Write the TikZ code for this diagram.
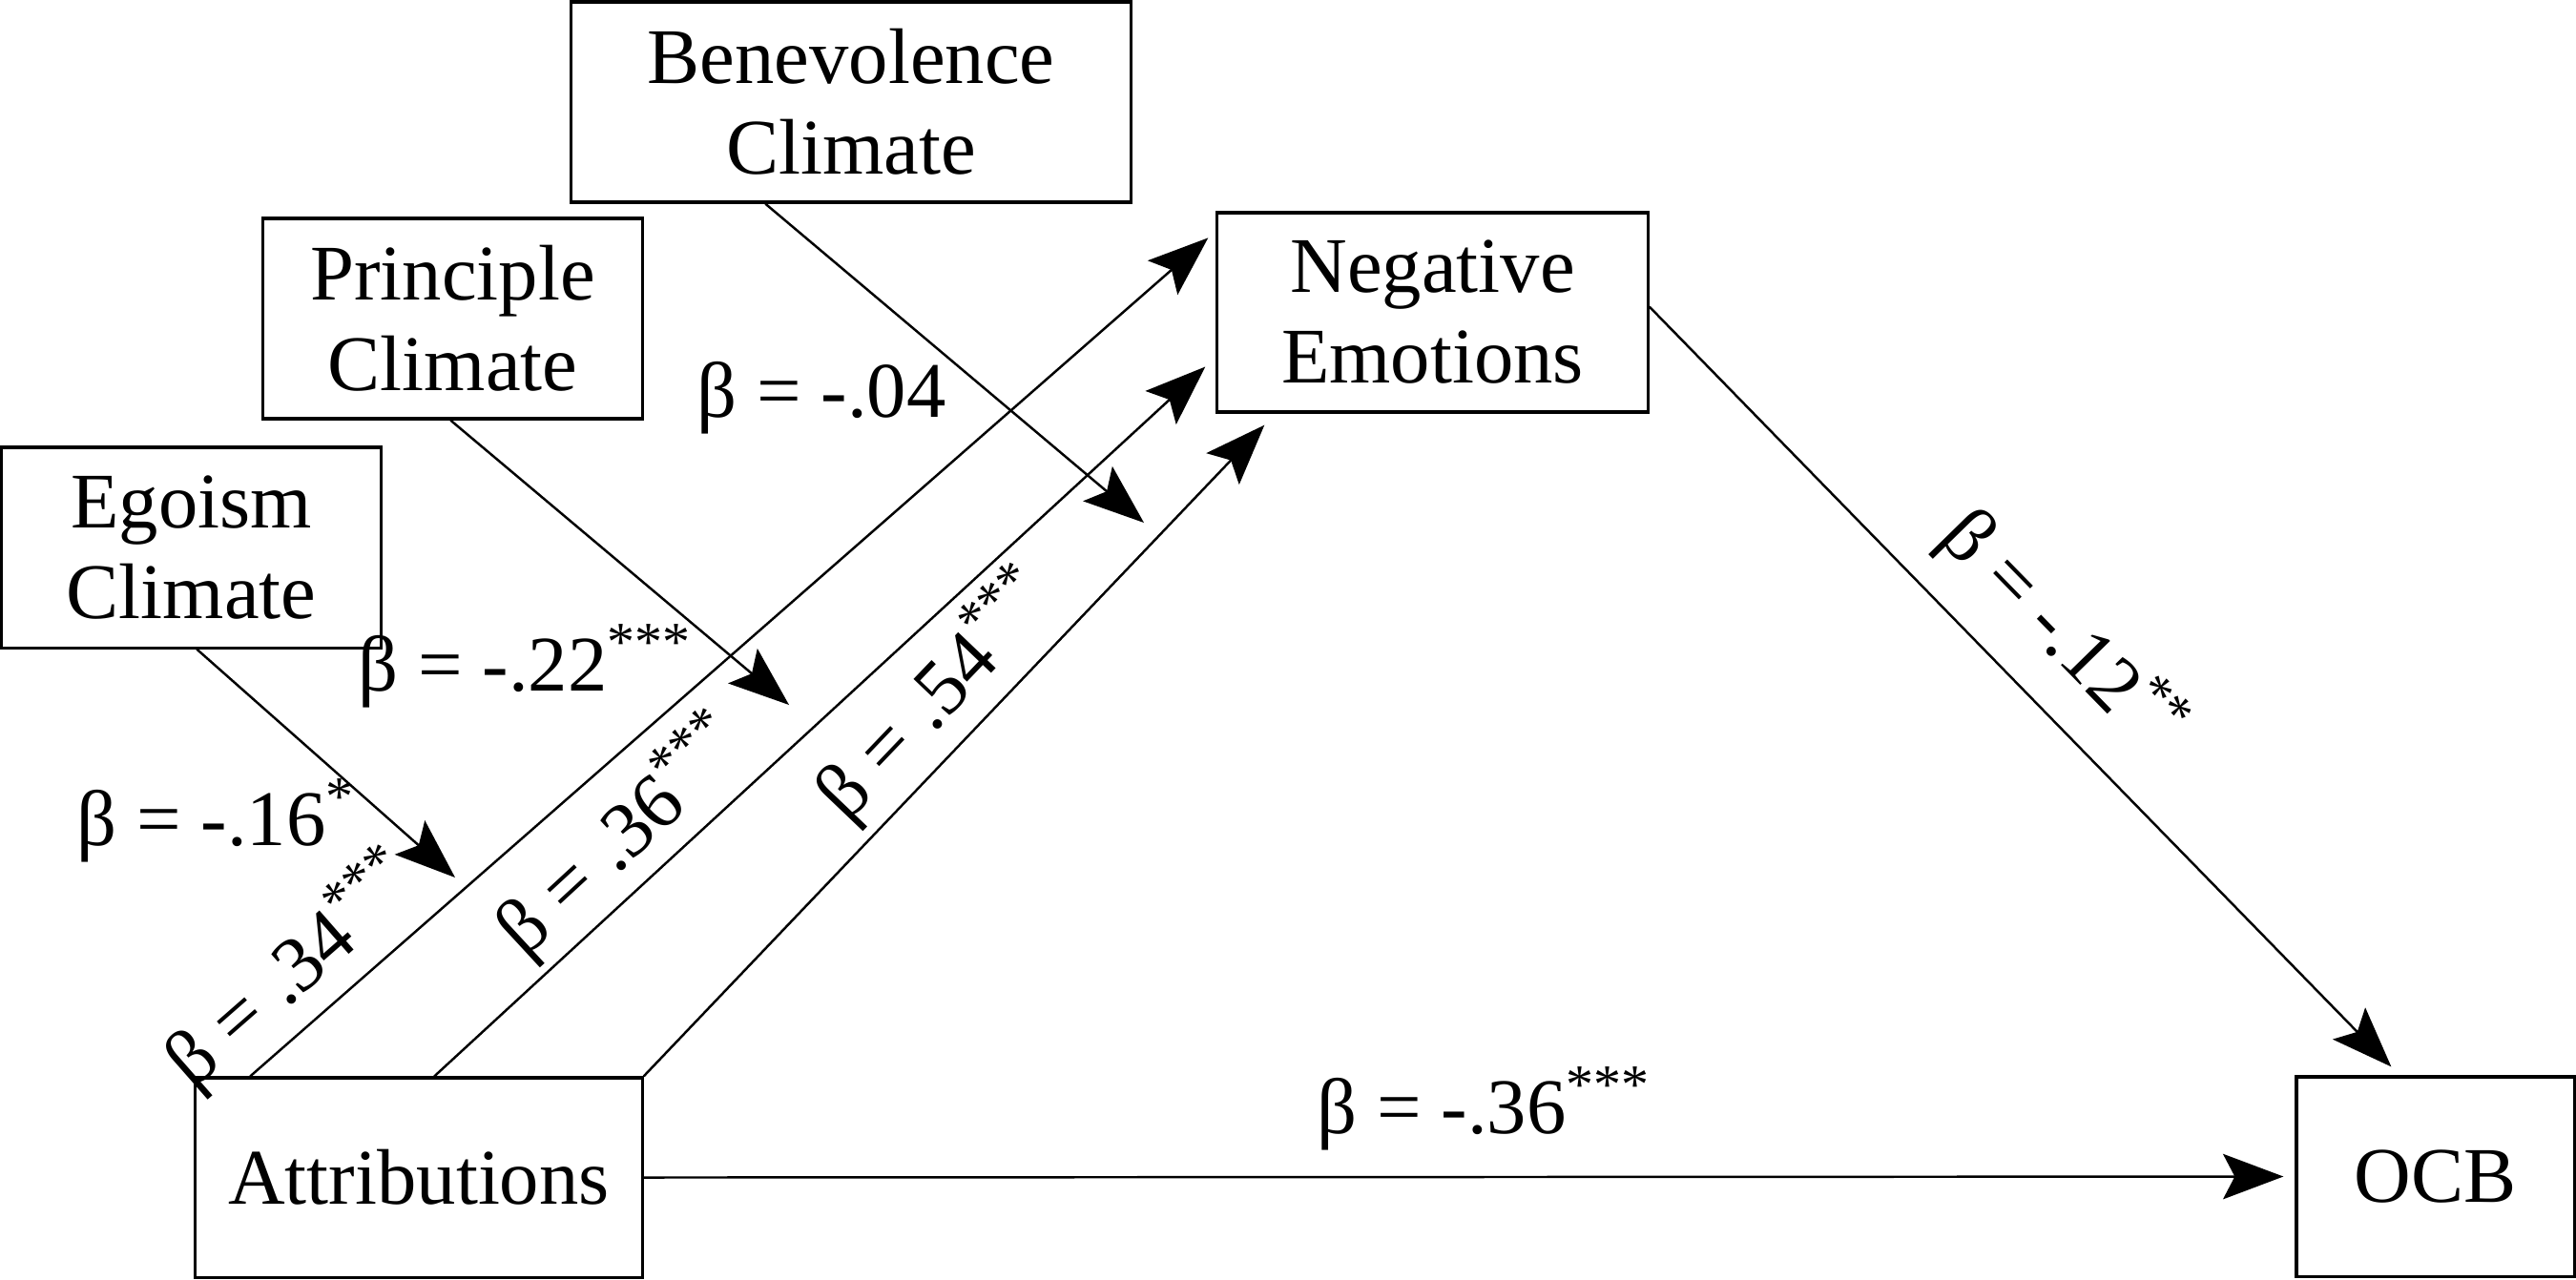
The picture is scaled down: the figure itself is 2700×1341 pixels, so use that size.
\documentclass[tikz,border=0pt]{standalone}
\usepackage{fontspec}
\setmainfont{Liberation Serif}
\usetikzlibrary{arrows.meta,calc}
\begin{document}
\begin{tikzpicture}[x=0.01cm,y=-0.01cm,
  box/.style={draw=black, line width=0.9pt, inner sep=0pt, align=center,
    font=\fontsize{23.5}{27}\selectfont},
  arr/.style={line width=0.7pt, -{Stealth[length=18pt,width=13.5pt,inset=3.5pt]}},
  lbl/.style={inner sep=0pt, anchor=base west, font=\fontsize{23.5}{27}\selectfont}]
\useasboundingbox (0,0) rectangle (2700,1341);
% boxes
\node[box, minimum width=5.86cm, minimum height=2.10cm] (ben) at (892,107) {Benevolence\\Climate};
\node[box, minimum width=3.97cm, minimum height=2.10cm] (pri) at (474.5,334) {Principle\\Climate};
\node[box, minimum width=3.97cm, minimum height=2.10cm] (ego) at (200.5,574) {Egoism\\Climate};
\node[box, minimum width=4.51cm, minimum height=2.09cm] (neg) at (1501.5,327.5) {Negative\\Emotions};
\node[box, minimum width=4.68cm, minimum height=2.09cm] (att) at (439,1234.5) {Attributions};
\node[box, minimum width=2.91cm, minimum height=2.09cm] (ocb) at (2552.5,1233.5) {OCB};
% connector ends
\coordinate (a1) at ($(att.north west)+(59,0)$);
\coordinate (a2) at ($(att.north west)+(252,0)$);
\coordinate (a3) at (att.north east);
\coordinate (n1) at ($(neg.north west)+(-8,28)$);
\coordinate (n2) at ($(neg.west)+(-11,57)$);
\coordinate (n3) at ($(neg.south west)+(51,12)$);
\coordinate (bs) at ($(ben.south west)+(205,0)$);
\coordinate (be) at (1199,548);
\coordinate (ps) at ($(pri.south west)+(198,0)$);
\coordinate (pe) at (827,739);
\coordinate (es) at ($(ego.south west)+(206,0)$);
\coordinate (ee) at (477,920);
\coordinate (ns) at ($(neg.east)+(0,-6)$);
\coordinate (oe) at ($(ocb.north west)+(101,-9)$);
\coordinate (oh) at ($(ocb.west)+(-12,0)$);
% connectors
\draw[arr] (a1) -- (n1);
\draw[arr] (a2) -- (n2);
\draw[arr] (a3) -- (n3);
\draw[arr] (bs) -- (be);
\draw[arr] (ps) -- (pe);
\draw[arr] (es) -- (ee);
\draw[arr] (ns) -- (oe);
\draw[arr] (att.east) -- (oh);
% labels
\node[lbl] (l04) at (730,437) {β = -.04};
\node[lbl] (l22) at (375,724) {β = -.22\textsuperscript{***}};
\node[lbl] (l16) at (80,886) {β = -.16\textsuperscript{*}};
\node[lbl, rotate=41.2] (l34) at (202,1144) {β = .34\textsuperscript{***}};
\node[lbl, rotate=42.7] (l36) at (550,1006) {β = .36\textsuperscript{***}};
\node[lbl, rotate=46.3] (l54) at (888,864) {β = .54\textsuperscript{***}};
\node[lbl, rotate=-45.65] (l12) at (2030,565) {β = -.12\textsuperscript{**}};
\node[lbl] (l36b) at (1380,1188) {β = -.36\textsuperscript{***}};
\end{tikzpicture}
\end{document}
